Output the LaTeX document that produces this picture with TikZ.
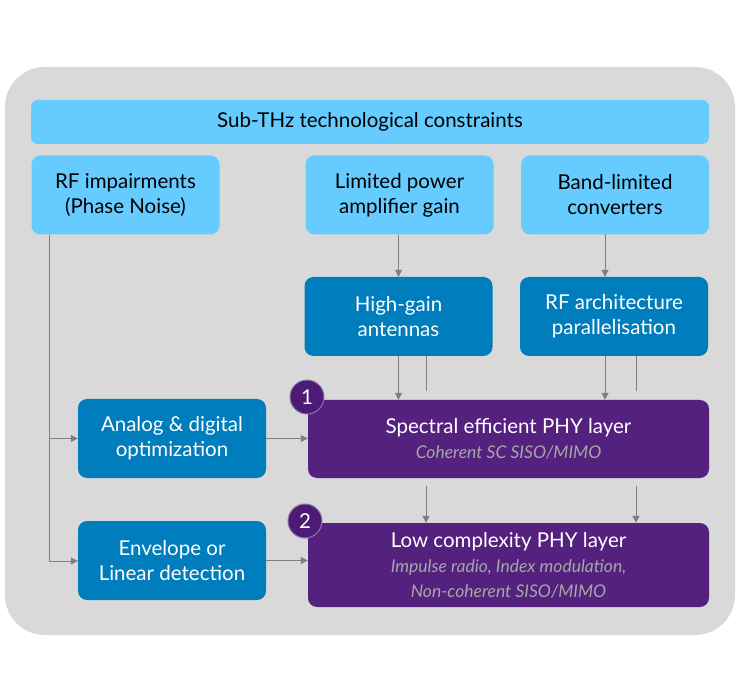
\documentclass[tikz,border=0pt]{standalone}
\usepackage{fontspec}
\setmainfont{Lato}
\usetikzlibrary{arrows.meta, positioning, calc}
\definecolor{panelgray}{HTML}{D9D9D9}
\definecolor{skyblue}{HTML}{66CCFF}
\definecolor{deepblue}{HTML}{007DBC}
\definecolor{phypurple}{HTML}{55217F}
\definecolor{badgepurple}{HTML}{4B1B76}
\definecolor{subgray}{HTML}{A6A6A6}
\definecolor{linkgray}{HTML}{7F7F7F}
\newcommand{\subtext}[1]{{\fontsize{17.5}{22}\selectfont\itshape\color{subgray}#1}}

\begin{document}
\begin{tikzpicture}[
  x=1pt, y=-1pt,
  every node/.style={font=\fontsize{20.5}{25}\selectfont, align=center, inner sep=0pt},
  constraint/.style={rectangle, rounded corners=9pt, fill=skyblue, text=black, minimum width=188pt, minimum height=79pt},
  remedy/.style={rectangle, rounded corners=9pt, fill=deepblue, text=white, minimum width=188pt, minimum height=79pt},
  phylayer/.style={rectangle, rounded corners=9pt, fill=phypurple, text=white, minimum width=401pt},
  badge/.style={circle, fill=badgepurple, draw=phypurple!55!panelgray, line width=1pt, text=white, minimum size=34pt},
  link/.style={draw=linkgray, line width=1pt, -{Triangle[width=7pt,length=7pt]}},
  stub/.style={draw=linkgray, line width=1pt}
]
\useasboundingbox (0,0) rectangle (739,700);

% Panel
\fill[panelgray, rounded corners=40pt] (5,67) rectangle (735,635);

% Constraints
\node[rectangle, rounded corners=7pt, fill=skyblue, minimum width=678pt, minimum height=44pt] (top) at (370,122) {Sub-THz technological constraints};
\node[constraint] (rf) at (125.5,195) {RF impairments\\(Phase Noise)};
\node[constraint] (lpa) at (399.5,195) {Limited power\\amplifier gain};
\node[constraint] (blc) at (615,195) {Band-limited\\converters};

% Remedies
\node[remedy] (hga) at (398.5,316.5) {High-gain\\antennas};
\node[remedy] (rfa) at (614,316.5) {RF architecture\\parallelisation};
\node[remedy] (ado) at (172,438.5) {Analog \& digital\\optimization};
\node[remedy] (eld) at (172,560.5) {Envelope or\\Linear detection};

% PHY layers
\node[phylayer, minimum height=78pt] (spe) at (508.5,439) {Spectral efficient PHY layer\\\subtext{Coherent SC SISO/MIMO}};
\node[phylayer, minimum height=84pt] (lcp) at (508.5,565) {Low complexity PHY layer\\\subtext{Impulse radio, Index modulation,}\\\subtext{Non-coherent SISO/MIMO}};
\node[badge] (one) at (307,397) {1};
\node[badge] (two) at (305,521) {2};

% Links
\coordinate (trunk) at (49,561);
\coordinate (hgastub) at (426,391);
\coordinate (hgaback) at (426,486);
\coordinate (rfastub) at (636,391);
\coordinate (rfaback) at (636,486);
\coordinate (blcout) at (605,234.5);

\draw[link] (lpa.south -| hga) -- (hga.north);
\draw[link] (blcout) -- (blcout |- rfa.north);
\draw[link] (hga.south) -- (hga.south |- spe.north);
\draw[link] (blcout |- rfa.south) -- (blcout |- spe.north);
\draw[stub] (hgastub |- hga.south) -- (hgastub);
\draw[stub] (rfastub |- rfa.south) -- (rfastub);
\draw[link] (hgaback) -- (hgaback |- lcp.north);
\draw[link] (rfaback) -- (rfaback |- lcp.north);
\draw[stub] (trunk |- rf.south) -- (trunk);
\draw[link] (trunk |- ado.west) -- (ado.west);
\draw[link] (trunk) -- (trunk -| eld.west);
\draw[link] (ado.east) -- (ado.east -| spe.west);
\draw[link] (eld.east) -- (eld.east -| lcp.west);

\end{tikzpicture}
\end{document}
